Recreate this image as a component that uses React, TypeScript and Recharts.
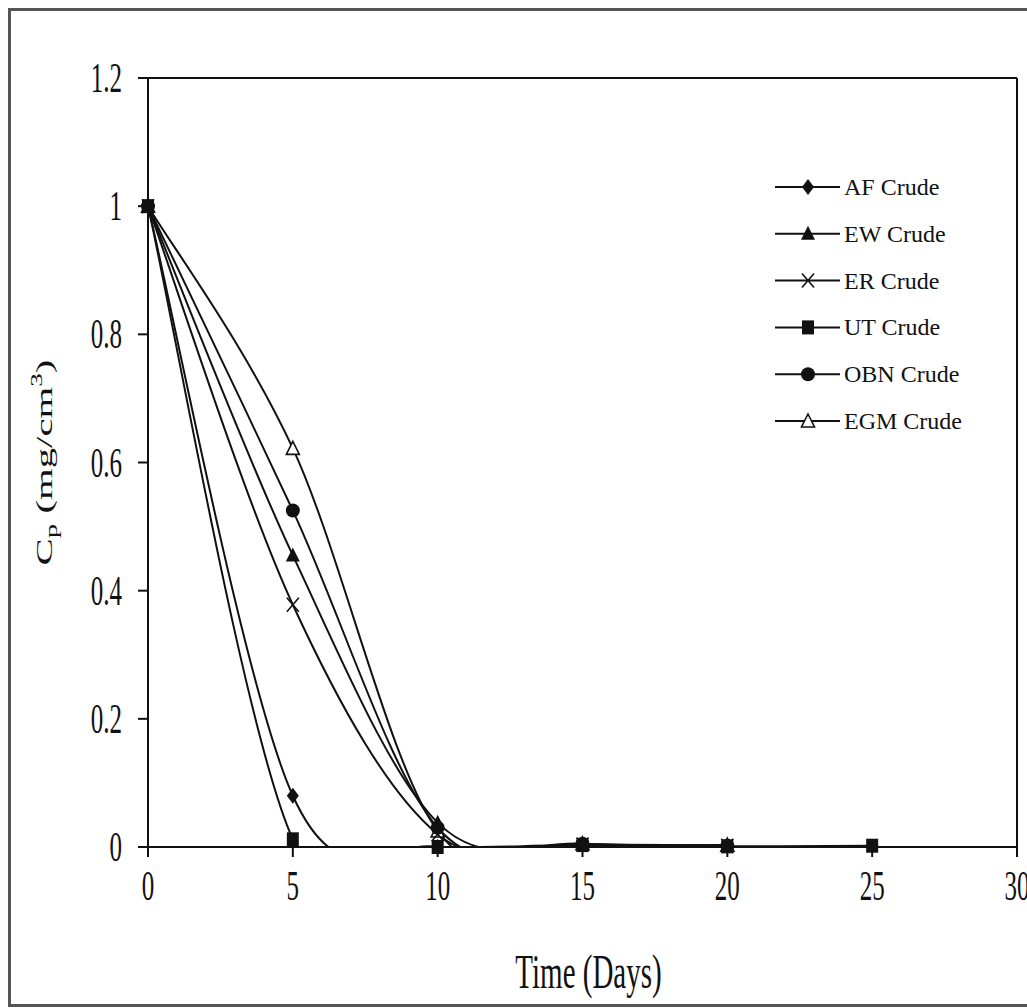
import React from 'react';
import { LineChart, Line, XAxis, YAxis, Legend, ReferenceLine } from 'recharts';

const SERIF = '"Liberation Serif", "Times New Roman", serif';
const INK = '#111';

// sampling days and measured Cp per crude
const days = [0, 5, 10, 15, 20, 25];
const afCrude = [1, 0.08, 0, 0.004, 0.002, null];
const ewCrude = [1, 0.455, 0.038, 0.005, 0.002, null];
const erCrude = [1, 0.378, 0.02, 0.004, 0.002, null];
const utCrude = [1, 0.012, 0, 0.003, 0.001, 0.002];
const obnCrude = [1, 0.525, 0.03, 0.005, 0.002, null];
const egmCrude = [1, 0.622, 0.025, 0.005, 0.003, null];

const xTicks = [0, 5, 10, 15, 20, 25, 30];
const yTicks = [0, 0.2, 0.4, 0.6, 0.8, 1, 1.2];

const series = [
  { key: 'af', name: 'AF Crude', values: afCrude, marker: 'diamond' },
  { key: 'ew', name: 'EW Crude', values: ewCrude, marker: 'triangle' },
  { key: 'er', name: 'ER Crude', values: erCrude, marker: 'cross' },
  { key: 'ut', name: 'UT Crude', values: utCrude, marker: 'square' },
  { key: 'obn', name: 'OBN Crude', values: obnCrude, marker: 'circle' },
  { key: 'egm', name: 'EGM Crude', values: egmCrude, marker: 'openTriangle' },
];

// open triangles sit under the filled marks, squares on top
const markOrder = ['egm', 'er', 'obn', 'ew', 'af', 'ut'];

const data = days.map((t, i) => {
  const row: any = { t };
  series.forEach((s) => {
    row[s.key] = s.values[i];
  });
  return row;
});

// Excel-like smoothed line: bezier through the points, 1/6 neighbour chord as arms
const excelSmooth: any = (context: any) => {
  let pts: number[][] = [];
  return {
    areaStart() {},
    areaEnd() {},
    lineStart() {
      pts = [];
    },
    point(x: number, y: number) {
      pts.push([+x, +y]);
    },
    lineEnd() {
      if (!pts.length) return;
      context.moveTo(pts[0][0], pts[0][1]);
      for (let i = 0; i < pts.length - 1; i++) {
        const p0 = pts[Math.max(i - 1, 0)];
        const p1 = pts[i];
        const p2 = pts[i + 1];
        const p3 = pts[Math.min(i + 2, pts.length - 1)];
        context.bezierCurveTo(
          p1[0] + (p2[0] - p0[0]) / 6,
          p1[1] + (p2[1] - p0[1]) / 6,
          p2[0] - (p3[0] - p1[0]) / 6,
          p2[1] - (p3[1] - p1[1]) / 6,
          p2[0],
          p2[1]
        );
      }
    },
  };
};

const Marker = ({ kind, cx, cy }: { kind: string; cx: number; cy: number }) => {
  switch (kind) {
    case 'diamond':
      return <polygon points={`${cx},${cy - 8} ${cx + 6},${cy} ${cx},${cy + 8} ${cx - 6},${cy}`} fill={INK} />;
    case 'triangle':
      return <polygon points={`${cx},${cy - 8} ${cx + 7},${cy + 6} ${cx - 7},${cy + 6}`} fill={INK} />;
    case 'openTriangle':
      return (
        <polygon
          points={`${cx},${cy - 7} ${cx + 6.5},${cy + 6} ${cx - 6.5},${cy + 6}`}
          fill="#fff"
          stroke={INK}
          strokeWidth={1.6}
        />
      );
    case 'cross':
      return (
        <g stroke={INK} strokeWidth={1.6}>
          <line x1={cx - 6} y1={cy - 7} x2={cx + 6} y2={cy + 7} />
          <line x1={cx - 6} y1={cy + 7} x2={cx + 6} y2={cy - 7} />
        </g>
      );
    case 'square':
      return <rect x={cx - 6} y={cy - 7} width={12} height={14} fill={INK} />;
    default:
      return <circle cx={cx} cy={cy} r={7} fill={INK} />;
  }
};

const XTick = ({ x, y, payload }: any) => (
  <g transform={`translate(${x},${y + 43}) scale(1,1.7)`}>
    <text textAnchor="middle" fontFamily={SERIF} fontSize={25} fill={INK}>
      {payload.value}
    </text>
  </g>
);

const YTick = ({ x, y, payload }: any) => (
  <g transform={`translate(${x - 16},${y + 14}) scale(1,1.7)`}>
    <text textAnchor="end" fontFamily={SERIF} fontSize={25} fill={INK}>
      {payload.value}
    </text>
  </g>
);

const XLabel = ({ viewBox }: any) => {
  const vb = viewBox || { x: 148, y: 847, width: 869 };
  return (
    <g transform={`translate(${vb.x + vb.width / 2 + 6},${vb.y + 141}) scale(1,1.65)`}>
      <text textAnchor="middle" fontFamily={SERIF} fontSize={29} fill={INK}>
        Time (Days)
      </text>
    </g>
  );
};

const YLabel = ({ viewBox }: any) => {
  const vb = viewBox || { x: 48, y: 78, height: 769 };
  return (
    <g transform={`translate(${vb.x + 4},${vb.y + vb.height / 2}) rotate(-90) scale(1.7,1)`}>
      <text textAnchor="middle" fontFamily={SERIF} fontSize={24} fill={INK}>
        C
        <tspan fontSize={17} dy={5}>
          p
        </tspan>
        <tspan dy={-5}> (mg/cm</tspan>
        <tspan fontSize={16} dy={-10}>
          3
        </tspan>
        <tspan dy={10}>)</tspan>
      </text>
    </g>
  );
};

const LegendBox = () => (
  <svg width={250} height={290}>
    {series.map((s, i) => {
      const cy = 23 + i * 46.8;
      return (
        <g key={s.key}>
          <line x1={3} y1={cy} x2={68} y2={cy} stroke={INK} strokeWidth={2} />
          <Marker kind={s.marker} cx={36} cy={cy} />
          <text x={72} y={cy + 8} fontFamily={SERIF} fontSize={24} fill={INK}>
            {s.name}
          </text>
        </g>
      );
    })}
  </svg>
);

export default function App() {
  return (
    <div style={{ position: 'absolute', left: 0, top: 0, width: 1027, height: 1008, overflow: 'hidden', background: '#fff' }}>
      <div
        style={{
          position: 'absolute',
          left: 8,
          top: 8,
          width: 1060,
          height: 999,
          boxSizing: 'border-box',
          border: '3px solid #555',
        }}
      />
      <div style={{ position: 'absolute', left: 0, top: 0 }}>
        <LineChart width={1027} height={1008} data={data} margin={{ top: 78, right: 10, bottom: 101, left: 48 }}>
          <XAxis
            dataKey="t"
            type="number"
            domain={[0, 30]}
            ticks={xTicks}
            interval={0}
            height={60}
            tickSize={10}
            tickMargin={0}
            tick={<XTick />}
            axisLine={{ stroke: INK, strokeWidth: 2 }}
            tickLine={{ stroke: INK, strokeWidth: 2 }}
            label={<XLabel />}
          />
          <YAxis
            domain={[0, 1.2]}
            ticks={yTicks}
            interval={0}
            width={100}
            tickSize={10}
            tickMargin={0}
            tick={<YTick />}
            axisLine={{ stroke: INK, strokeWidth: 2 }}
            tickLine={{ stroke: INK, strokeWidth: 2 }}
            label={<YLabel />}
          />
          <YAxis yAxisId="clip" hide domain={[0, 1.2]} allowDataOverflow />
          <ReferenceLine y={1.2} stroke={INK} strokeWidth={2} />
          <ReferenceLine x={30} stroke={INK} strokeWidth={2} />
          {series.map((s) => (
            <Line
              key={`${s.key}-curve`}
              yAxisId="clip"
              dataKey={s.key}
              name={s.name}
              type={excelSmooth}
              stroke={INK}
              strokeWidth={2}
              dot={false}
              activeDot={false}
              legendType="none"
              isAnimationActive={false}
            />
          ))}
          {markOrder.map((k) => {
            const s = series.find((d) => d.key === k)!;
            return (
              <Line
                key={`${s.key}-marks`}
                dataKey={s.key}
                name={s.name}
                type="linear"
                stroke="none"
                dot={(p: any) =>
                  p.value == null || p.cx == null ? (
                    <g key={`${s.key}-${p.index}`} />
                  ) : (
                    <Marker key={`${s.key}-${p.index}`} kind={s.marker} cx={p.cx} cy={p.cy} />
                  )
                }
                activeDot={false}
                isAnimationActive={false}
              />
            );
          })}
          <Legend
            layout="vertical"
            align="center"
            verticalAlign="middle"
            content={<LegendBox />}
            wrapperStyle={{ left: 772, top: 164, width: 250 }}
          />
        </LineChart>
      </div>
    </div>
  );
}
